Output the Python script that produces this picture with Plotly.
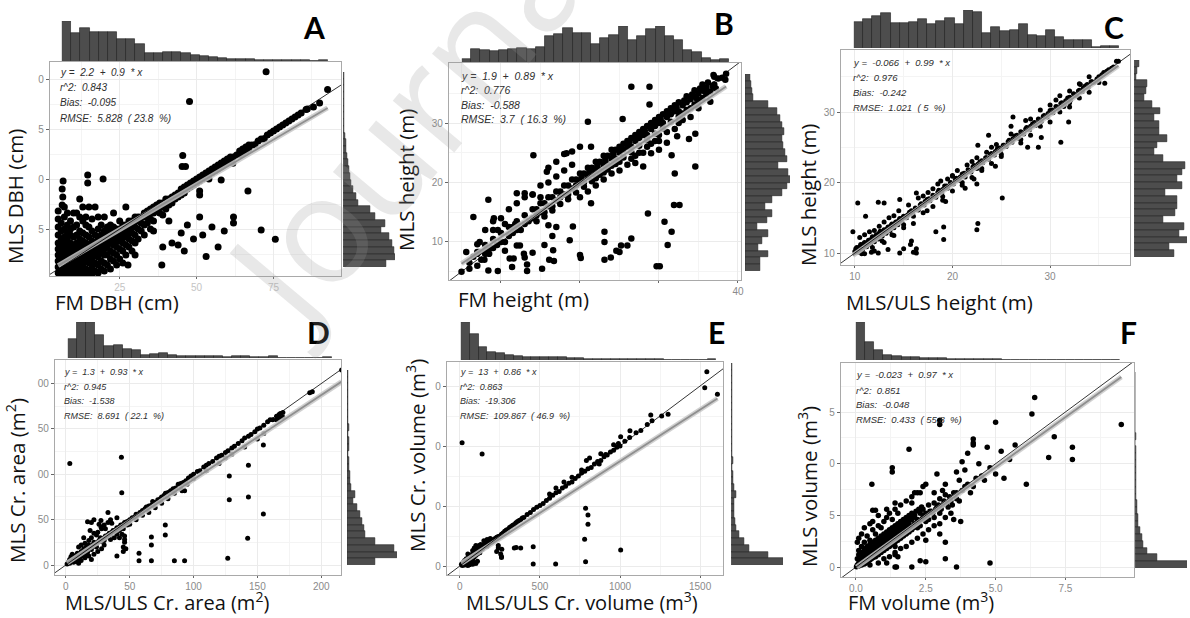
import plotly.graph_objects as go

W, H = 1190, 618

# ---------------- DATA ----------------
# Panel A: FM DBH (cm) vs MLS DBH (cm)
dbh_points = [
    (5,3),(5,6),(5,9),(5,12),(5,15),(5,18),(5,22),(5,26),(5,30),(5,34),
    (6,2),(6,5),(6,8),(6,11),(6,14),(6,17),(6,20),(6,24),(6,28),(6.3,37),(6.5,41),(6.3,45),(6.6,49),
    (7,3),(7,6),(7,9),(7,12),(7,15),(7,18),(7,21),(7,25),(7,31),(7,36),
    (8,2),(8,5),(8,8),(8,11),(8,14),(8,17),(8,20),(8,23),(8,27),(8,33),
    (9,3),(9,6),(9,9),(9,12),(9,15),(9,18),(9,22),(9,25),(9,29),
    (10,2),(10,5),(10,8),(10,11),(10,14),(10,17),(10,21),(10,26),(10,33),
    (11,3),(11,6),(11,9),(11,12),(11,15),(11,18),(11,22),(11,27),(11,33),
    (12,2),(12,5),(12,8),(12,11),(12,14),(12,17),(12,20),(12,24),(12,31),(12,40),
    (13,3),(13,7),(13,10),(13,13),(13,16),(13,19),(13,23),(13,29),(13,36),
    (14,2),(14,5),(14,9),(14,12),(14,15),(14,18),(14,22),(14,27),(14,31),(14.6,48),(14.6,52),
    (15,4),(15,8),(15,11),(15,14),(15,17),(15,21),(15,26),(15,36),
    (16,2),(16,6),(16,10),(16,13),(16,16),(16,19),(16,24),(16,30),
    (17,4),(17,8),(17,12),(17,15),(17,18),(17,22),(17,36),
    (18,3),(18,7),(18,11),(18,14),(18,17),(18,20),(18,25),(18,31),
    (19,5),(19,9),(19,13),(19,16),(19,19),(19,22),(19,27),(19.6,50),
    (20,4),(20,8),(20,12),(20,15),(20,18),(20,21),(20,24),(20,31),
    (21,7),(21,12),(21,16),(21,19),(21,22),(21,26),
    (22,5),(22,10),(22,14),(22,18),(22,21),(22,24),(22,27),
    (23,9),(23,13),(23,17),(23,20),(23,23),(23,26),(23,33),
    (24,7),(24,12),(24,16),(24,19),(24,22),(24,25),
    (25,10),(25,15),(25,19),(25,22),(25,25),(25,29),
    (26,8),(26,14),(26,18),(26,21),(26,24),(26,27),
    (27,12),(27,17),(27,21),(27,24),(27,27),(27,36),(27.7,7),
    (28,16),(28,20),(28,23),(28,26),(28,29),
    (29,14),(29,19),(29,23),(29,26),(29,29),
    (30,12),(30,18),(30,22),(30,26),(30,29),(30,31),
    (31,20),(31,25),(31,29),(31,31),(32,24),(32,28),(32,31),(33,22),(33,27),(33,31),(33,33),
    (34,28),(34,31),(34,34),(35,25),(35,30),(35,33),(35,35),(36,29),(36,33),(36,36),(36,24),
    (37,34),(37,37),(38,33),(38,36),(38,38),(39,32),(39,36),(39,38),(39,16),(38.7,7),
    (40,35),(40,38),(40,40),(41,37),(41,40),(41,29),(42,38),(42,41),(42,18),(43,40),(43,42),
    (44,41),(44,43),(44,17),(45,42),(45,45),(45.5,61.7),(45.3,56.2),(46.4,56.2),(45,23),(46,14),
    (46,43),(46,46),(47,45),(47,47),(47,27),(48,46),(48,48),(49,47),(49,49),(49,20),
    (50,48),(50,50),(51,49),(51,51),(51,31),(51,44),(51,42),(52,50),(52,52),(52,22),
    (53,51),(53,53),(53.1,11.2),(54,52),(54,54),(54,50),(55,53),(55,55),(55,26),
    (56,54),(56,56),(57,55),(57,57),(57,16),(58,56),(58,58),(58,49.5),(59,57),(59,59),(59,24),
    (60,58),(60,60),(61,59),(61,61),(61.8,57.9),(62,61),(62,31),(62,28),(63,62),(64,62),(64,64),
    (65,63),(65,65),(66,64),(66,66),(66.7,44),(67,65),(67,67),(68,67),(69,67),(70,69),(71,70),
    (71,24.5),(72,70),(73,72),(74,73),(75,74),(75.6,19.9),(76,75),(77,76),(78,77),(79,78),
    (80,79),(81,80),(82,81),(83,82),(84,83),(85.6,84.8),(86,85),(88,86),(90,88),(92.6,94.8),
    (72.6,103.6),(47.7,88.7),
]
dbh_top_hist = [120, 85, 98, 88, 88, 86, 65, 65, 50, 25, 25, 27, 27, 23, 18, 16, 13, 8, 6, 5,
                5, 3, 3, 3, 3, 2, 2, 1, 2]
dbh_right_hist_top_down = [3, 3, 3, 3, 3, 3, 3, 3, 4, 6, 8, 10, 12, 14, 17, 20, 24, 30, 38, 45,
                           82, 95, 125, 115, 138, 145, 153, 155, 128]

# Panel B: FM height (m) vs MLS height (m)
height_fm_points = [
    (6,6.5),(6.5,7.5),(7,6),(7,8),(7.5,7),(8,8.5),(8,9.5),(8.5,8),(9,9),(9,10.5),(9.5,9.5),
    (10,10),(10,11.5),(10.5,10),(11,11),(11,12.5),(11.5,11.5),(12,12),(12,13.5),(12.5,12),
    (13,13),(13,14.5),(13.5,13.5),(14,14),(14,15.5),(14.5,14.5),(15,15),(15,16.5),(15.5,15),
    (16,16),(16,17.5),(16.5,16),(17,17),(17,18.5),(17.5,17.5),(18,18),(18,19.5),(18.5,18),
    (19,19),(19,20.5),(19.5,19.5),(20,20),(20,21.5),(20.5,20),(21,21),(21,22.5),(21.5,21.5),
    (22,22),(22,23.5),(22.5,22),(23,23),(23,24.5),(23.5,23),(24,24),(24,25.5),(24.5,24),
    (25,25),(25,26),(25.5,25.5),(26,26),(26,27),(26.5,26),(27,27),(27,28),(27.5,27.5),
    (28,28),(28,29),(28.5,28),(29,29),(29,30),(29.5,29.5),(30,30),(30,31),(30.5,30),
    (31,31),(31,32),(31.5,31.5),(32,32),(32,33),(32.5,32),(33,33),(33.5,33.5),(34,34),
    (34.5,34.5),(35,35),(35.5,35.5),(36,36),(37,36.5),(37.5,37.5),
    (14.5,15.5),(15.5,16.5),(16.5,17.5),(17.5,18.5),(18.5,19.5),(19.5,20.5),(20.5,21.5),
    (21.5,22.5),(22.5,23.5),(23.5,24.5),(24.5,25.5),(25.5,26.5),(26.5,27.5),(27.5,28.5),
    (28.5,29.5),(29.5,30.5),(30.5,31.5),(31.5,32.5),(32.5,33.5),(33.5,34.5),(34.5,35.5),
    (35.5,36.5),(14.5,13.5),(15.5,14.3),(16.5,15.3),(17.5,16.4),(18.5,17.2),(19.5,18.3),
    (20.5,19.3),(21.5,20.2),(22.5,21.3),(23.5,22.2),(24.5,23.1),(25.5,24.2),(26.5,25.1),
    (27.5,26.2),(28.5,27.1),(29.5,28.2),(30.5,29.1),(31.5,30.2),(32.5,31.1),(33.5,32.2),
    (34.5,33.1),(35.5,34.2),(36.5,35.3),(20.2,20.8),(21.2,21.8),(22.2,22.8),(23.2,23.8),
    (24.2,24.8),(25.2,25.8),(26.2,26.8),(27.2,27.8),(28.2,28.8),(29.2,29.8),(30.2,30.8),
    (31.2,31.8),(32.2,32.8),(33.2,33.8),(34.2,34.8),(35.2,35.8),(36.2,36.8),(37,37.8),
    (33,31.6),(34,32.5),(35,33.7),(36,34.9),(36.5,33.6),(37.2,35.8),(36.8,36.2),(38,37.6),
    (35.8,35.3),(34.8,34.1),
    (20,17.5),(21,18.5),(22,19.5),(23,20.5),(24,21.5),(25,22),(26,23),(26.5,24),(27,24.5),
    (27.5,25),(28,25),(28.5,26),(29,26.5),(29.5,27),(30,27),(30,28),(31,28.5),(32,29),
    (32.5,30),(33,30.5),(34,31),(35,32.5),(28,22.7),(27,23.3),(29,24.9),(30,25.5),(31,26.7),
    (25,23.5),(24,22.8),(23,21.7),(22,20.7),
    (8,12),(9,13.5),(10,14),(11,15.5),(12,16.5),(13,17.5),(14,18),(15,19.5),(16,20),(17,21),
    (18,22),(19,23),(12,18.2),(13,18.2),(14,18),(15,17.5),(16,22.5),(17,23.5),(18,24.8),
    (19,25.2),(20,26),(10.5,13),(11.5,12.5),(6.5,14.2),(8.4,17.1),(14.1,24.6),(15.8,21.8),
    (18.3,24.9),(21,30.2),(21.4,26),
    (21.4,16.5),(19.1,12.6),(18.7,10.3),(20,7.8),(20.1,7.3),(23.1,11.7),(23.1,10),(23.1,7),
    (23.9,7.4),(25,8.3),(24.6,8.5),(25.2,9.4),(26,9.4),(26.5,10.6),(25.4,30.7),(26.5,36.1),
    (28.8,36.1),(28.8,33.1),(28.6,14.8),(29.7,5.9),(30.1,5.9),(30.7,13.4),(31.1,9.5),
    (31.6,11.7),(31.9,16.2),(32.6,16.2),(32,21.5),(31.6,24.6),(34.6,22.7),(33.8,27.3),
    (32.3,27.8),(34.6,28.2),(36.9,38.1),(38.5,38.3),(38.4,37.3),(16.7,6.8),(16.6,8.6),
    (15.2,5.5),(16.1,7),(13.3,6.2),(13.3,5.1),(12.9,8),(12.4,9.4),(12,9.4),(11.4,5.8),
    (11.6,7.2),(11.1,7.2),(9.6,5.1),(8.4,5.2),(7.9,7),(8,8),(8.3,8.6),(8.8,9),(5.6,8.3),
    (7,8.3),(7.2,8.3),(7,9.6),(7.3,10),(9,12),(9.6,12),(9.1,14),(11.8,13),(12.1,13),
    (10.5,8.5),(14,8.2),(13,7.4),(17,12.5),(16.5,11),(15.5,9.5),(16,12.8),(5,5),(6,5.5),
]
height_fm_top_hist = [10, 39, 36, 34, 36, 40, 43, 39, 46, 80, 86, 103, 89, 88, 56, 72, 81, 109,
                      68, 78, 99, 108, 78, 68, 36, 31, 11, 6, 8]
height_fm_right_hist_top_down = [15, 18, 22, 25, 70, 95, 105, 110, 118, 110, 115, 120, 125, 100,
                                 130, 135, 125, 110, 82, 60, 82, 65, 35, 70, 50, 40, 68, 45, 45]

# Panel C: MLS/ULS height (m) vs MLS height (m)
height_uls_points = [
    (10,10.2),(10.2,10.8),(10.4,10.3),(10.6,11.2),(10.8,10.5),(11,11.5),(11.2,10.9),(11.4,11.8),
    (11.6,11.2),(11.8,12.3),(12,11.6),(12.2,12.6),(12.4,12),(12.6,13.1),(12.8,12.4),(13,13.3),
    (13.2,12.8),(13.4,13.7),(13.6,13.2),(13.8,14.1),(14,13.6),(14.2,14.4),(14.4,14),(14.6,14.9),
    (14.8,14.4),(15,15.2),(15.3,15),(15.6,15.8),(15.9,15.6),(16.2,16.4),(16.5,16.1),(16.8,17),
    (17.1,16.8),(17.4,17.6),(17.7,17.4),(18,18.2),(18.3,17.9),(18.6,18.9),(18.9,18.5),
    (19.2,19.5),(19.5,19.2),(19.8,20),(20.1,19.8),(20.4,20.6),(20.7,20.3),(21,21.2),(21.3,20.8),
    (21.6,21.8),(21.9,21.5),(22.2,22.4),(22.5,22),(22.8,22.9),(23.1,22.8),(23.4,23.5),
    (23.7,23.3),(24,24.1),(24.3,23.9),(24.6,24.8),(24.9,24.5),(25.2,25.3),(25.5,25.1),
    (25.8,26),(26.1,25.7),(26.4,26.6),(26.7,26.3),(27,27.2),(27.3,26.9),(27.6,27.8),
    (27.9,27.5),(28.2,28.3),(28.5,28.1),(28.8,29),(29.1,28.7),(29.4,29.5),(29.7,29.3),
    (30,30.2),(30.3,29.9),(30.6,30.8),(30.9,30.5),(31.2,31.3),(31.5,31.1),(31.8,32),
    (32.1,31.7),(32.4,32.6),(32.7,32.3),(33,33.1),(33.3,32.9),(33.6,33.7),(33.9,33.5),
    (34.2,34.3),(34.5,34.2),(35,35),(35.5,35.6),(36,36),(36.5,36.4),(37,37.2),
    (10.1,10.6),(10.5,10.9),(10.9,11.3),(11.3,11.5),(11.7,12),(12.1,12.2),(12.5,12.8),
    (12.9,13),(13.3,13.4),(13.7,13.9),(14.1,14.2),(14.5,14.6),(14.9,15),(15.4,15.4),
    (15.8,16),(16.3,16.2),(16.7,16.8),(17.2,17.3),(17.6,17.7),(18.1,18.1),(18.5,18.6),
    (19,19),(19.4,19.5),(19.9,19.9),(20.3,20.4),(20.8,20.8),(21.2,21.3),(21.7,21.7),
    (22.1,22.2),(22.6,22.6),(23,23.1),(23.5,23.5),(23.9,24),(24.4,24.4),(24.8,24.9),
    (25.3,25.3),(25.7,25.8),(26.2,26.2),(26.6,26.7),(27.1,27.1),(27.5,27.6),(28,28),
    (28.4,28.5),(28.9,28.9),(29.3,29.4),(29.8,29.8),(30.2,30.3),(30.7,30.7),(31.1,31.2),
    (31.6,31.6),(32,32.1),(32.5,32.5),(32.9,33),(33.4,33.4),(33.8,33.9),(34.3,34.3),
    (34.8,34.7),(35.3,35.3),(35.8,35.8),(36.3,36.2),
    (11,12.6),(12,13.2),(13,14.4),(14,15.3),(15,14),(16,15.2),(17,18.1),(18,19.1),(19,18),
    (20,21),(21,20),(22,23),(23,22),(24,25),(25,24),(26,26.9),(27,26.1),(28,29),(29,28),
    (30,31),(31,30),(32,33),(33,32),(34,35),(20,20.9),(18.8,20.2),(19.3,17.3),(21.3,19.2),
    (22.2,20.5),(24.4,22.3),(17.4,16),(13.8,12.6),(12.8,11.7),(11.8,10.8),(10.7,9.9),
    (10.5,12.2),(11,9.9),(11.5,13),(12,10.3),(12.5,13.8),(13,11.5),(13.5,15),(14,12.5),
    (14.5,16),(15,13.6),(15.5,16.8),(16,14.2),(16.5,17.8),(17,15.7),(17.5,18.6),(18,16.6),
    (18.5,19.8),(19,17.5),(19.5,20.5),(20,18.8),(20.5,21.7),(21,19.6),(21.5,22.5),(22,20.7),
    (22.5,19.8),(22.5,23.5),(23,21.7),(23.5,24.3),(24,22.7),(24.5,25.4),(25,23.7),(26,28),
    (27,25.6),(27.5,28.8),(28,26.7),(29,30.3),(30,28.6),(31,32.3),(32,30.7),(33,34),
    (34,32.8),(35,34.2),(12.4,10),(13.4,10.5),(11.7,10.1),(10.3,10.1),(14.6,10),(16,10.1),
    (15,10.6),(15.7,11.2),
    (10.3,17.1),(11.1,15.2),(12.4,17.2),(13,17.1),(14.6,17.6),(16.3,18.5),(16.3,10.6),
    (15.8,11.7),(16.3,10),(18.3,13),(19.1,13.7),(19.1,11.9),(25.1,17.8),(22.6,14.2),
    (22.5,13.3),(22.6,25.3),(23.7,26.7),(26.2,29.3),(27.7,25),(28.8,25),(29.1,26.4),
    (31.1,25.7),(31.9,28.6),(31.4,30.8),(32,31.3),(30.6,31.7),(33.1,33.9),(35.6,34.1),
    (36.8,37.2),(9.8,13),
]
height_uls_top_hist = [80, 87, 97, 105, 77, 75, 80, 87, 73, 83, 90, 72, 115, 110, 45, 63, 50,
                       55, 73, 40, 37, 55, 32, 25, 23, 23, 2, 5, 7]
height_uls_right_hist_top_down = [15, 8, 5, 40, 35, 30, 55, 80, 60, 75, 75, 100, 70, 62, 88, 155,
                                  145, 130, 145, 95, 130, 130, 125, 88, 150, 135, 160, 105, 122]

# Panel D: MLS/ULS crown area (m2) vs MLS crown area (m2)
area_points = [
    (1,1),(2,3),(3,2),(3,6),(4,4),(4,9),(5,5),(5,12),(6,3),(6,7),(7,6),(7,10),(8,8),(8,4),
    (9,9),(9,13),(10,10),(10,6),(11,12),(11,9),(12,11),(12,15),(13,13),(13,10),(14,14),
    (14,18),(15,15),(15,12),(16,16),(16,20),(17,17),(17,14),(18,18),(18,22),(19,19),(20,20),
    (20,17),(21,22),(22,21),(22,25),(23,23),(24,24),(24,20),(25,25),(26,27),(27,26),(27,30),
    (28,28),(29,29),(30,30),(30,27),(31,32),(32,31),(33,33),(34,35),(35,34),(36,36),(37,38),
    (38,37),(39,39),(40,41),(41,40),(42,42),(43,44),(44,43),(45,45),(46,47),(47,46),(48,48),
    (50,50),(52,52),(54,53),(55,56),(56,55),(58,58),(60,60),(62,62),(63,64),(65,65),(67,66),
    (68,70),(70,69),(72,72),(74,73),(75,75),(77,77),(78,79),(80,80),(82,82),(84,84),(86,85),
    (88,89),(90,90),(92,91),(94,93),(96,96),(98,98),(100,100),(103,103),(105,104),(108,108),
    (110,110),(112,112),(115,114),(118,118),(120,120),(122,121),(125,124),(127,126),
    (130,129),(132,131),(135,134),(138,137),(140,140),(143,142),(145,144),(148,147),
    (150,150),(152,151),(155,154),(158,158),(160,160),(162,160),(165,164),(167,166),
    (168,167),(170,168),(167,162),(170,163),(165,160),
    (10,20),(12,22),(15,24),(18,27),(20,30),(22,35),(25,36),(28,40),(30,44),(33,47),(35,50),
    (40,52),(20,47),(22,50),(17,47.8),(27.5,49),(27.5,42),(33,57.8),(14,30),(19,38),(24,33),
    (26,45),(31,40),(36,46),
    (10,2),(12,5),(15,8),(18,10),(20,6),(22,12),(25,15),(28,18),(30,22),(35,28),(38,30),
    (40,34),(42,38),(45,40),(48,44),(50,45),(55,50),(60,55),(65,58),(70,63),(75,68),(80,73),
    (85,79),(90,84),(95,89),(100,95),(110,104),(120,112),(125,118),(130,122),(140,130),
    (150,139),(155,145),
    (3.1,112),(43.5,118.9),(43.8,79.8),(40,10),(57.3,13),(57.3,4.8),(67,4.8),(67,22),(67,31),
    (77.9,44),(77.9,33),(85,4.8),(93,4.8),(91,82),(93,82),(128,98),(128,72),(126.8,7.4),
    (143,110),(143,75),(142.4,29.4),(154.7,56.3),(154.7,132.4),(191,190),(193,191),(216,215),
    (45,15),(45,20),(46,25),(46,28),(44,34),(46,32),(47,18),(42,30),
]
area_top_hist = [58, 108, 108, 68, 35, 38, 28, 23, 10, 13, 15, 8, 7, 5, 5, 6, 5, 3, 5, 6, 3, 3, 5,
                 1, 1, 1, 1, 0, 2]
area_right_hist_top_down = [2, 3, 2, 3, 3, 4, 3, 4, 5, 4, 5, 5, 4, 5, 6, 8, 10, 12, 25, 18, 30, 38,
                            45, 50, 55, 85, 140, 150, 85]

# Panel E: MLS/ULS crown volume (m3) vs MLS crown volume (m3)
crvol_points = [
    (10,15),(20,30),(25,10),(30,45),(35,25),(40,60),(45,35),(50,20),(55,70),(60,50),(65,85),
    (70,40),(75,95),(80,60),(85,110),(90,75),(95,120),(100,90),(105,140),(110,100),(115,130),
    (120,150),(125,110),(130,160),(140,140),(145,175),(150,160),(160,180),(170,165),(175,200),
    (180,190),(190,210),(200,200),(210,220),(220,230),(230,240),(240,245),(250,250),(260,265),
    (270,275),(280,290),(290,300),(300,305),(310,320),(320,330),(330,340),(340,345),(350,360),
    (360,370),(370,380),(380,385),(390,400),(400,405),(420,430),(440,445),(460,470),(480,490),
    (500,505),(520,520),(540,545),(560,565),(580,590),(600,610),(620,620),(640,650),(660,665),
    (680,690),(700,700),(720,730),(740,750),(760,775),(780,790),(800,810),(820,820),(840,850),
    (860,870),(880,880),(900,910),(920,925),(940,950),(960,965),(980,990),(1000,1000),
    (1030,1040),(1060,1070),(1100,1110),(1130,1130),(1170,1180),(1200,1210),(1260,1250),
    (1300,1264),(1192,1258),(1542,1619),(1529,1486),(1608,1431),(1062,1128),(1004,1078),
    (960,1010),(990,1020),(910,930),(880,935),(790,880),(810,900),(870,850),(760,800),
    (700,740),(650,700),(600,650),(560,600),
    (15,5),(30,8),(40,15),(50,5),(60,10),(70,25),(80,15),(90,30),(100,20),(110,40),(60,80),
    (70,90),(80,130),(90,150),(100,170),(50,100),(120,170),(130,180),(150,210),(170,220),
    (190,230),
    (14,1028),(139,933),(785,481),(800,425),(800,347),(779,222),(785,36),(598,17),(458,17),
    (458,161),(340,150),(352,155),(380,150),(230,120),(240,170),(255,100),(260,80),(260,70),
    (262,140),(240,150),(1004,133),
]
crvol_top_hist = [115, 80, 40, 25, 20, 15, 12, 10, 8, 8, 10, 8, 5, 5, 4, 3, 4, 3, 4, 2, 2, 2, 2,
                  1, 1, 1, 1, 1, 2]
crvol_right_hist_top_down = [2, 2, 2, 3, 2, 3, 2, 3, 3, 2, 3, 4, 3, 4, 5, 4, 5, 6, 8, 15, 10, 8,
                             10, 12, 14, 25, 40, 55, 110, 155]

# Panel F: FM volume (m3) vs MLS volume (m3)
vol_points = [
    (0.02,0.02),(0.05,0.1),(0.1,0.05),(0.1,0.2),(0.15,0.3),(0.2,0.1),(0.2,0.4),(0.25,0.25),
    (0.3,0.5),(0.3,0.15),(0.35,0.4),(0.4,0.6),(0.4,0.25),(0.45,0.5),(0.5,0.8),(0.5,0.35),
    (0.55,0.6),(0.6,0.9),(0.6,0.45),(0.65,0.7),(0.7,1.0),(0.7,0.5),(0.75,0.8),(0.8,1.1),
    (0.8,0.6),(0.85,0.9),(0.9,1.2),(0.9,0.7),(0.95,1.0),(1.0,1.3),(1.0,0.8),(1.05,1.1),
    (1.1,1.4),(1.1,0.9),(1.15,1.2),(1.2,1.5),(1.2,1.0),(1.25,1.3),(1.3,1.6),(1.3,1.1),
    (1.35,1.4),(1.4,1.7),(1.4,1.2),(1.45,1.5),(1.5,1.8),(1.5,1.3),(1.55,1.6),(1.6,1.9),
    (1.6,1.4),(1.65,1.7),(1.7,2.0),(1.7,1.5),(1.75,1.8),(1.8,2.1),(1.8,1.6),(1.85,1.9),
    (1.9,2.2),(1.9,1.7),(1.95,2.0),(2.0,2.3),(2.0,1.8),(2.1,2.1),(2.1,2.5),(2.2,1.9),
    (2.2,2.3),(2.3,2.6),(2.3,2.0),(2.4,2.4),(2.4,2.8),(2.5,2.2),(2.5,2.6),(2.6,3.0),
    (2.6,2.3),(2.7,2.7),(2.8,3.1),(2.8,2.4),(2.9,2.9),(3.0,3.3),(3.0,2.6),(3.1,3.0),
    (3.2,3.5),(3.3,2.9),(3.4,3.2),(3.5,3.6),(3.6,3.3),(3.8,3.7),(4.0,4.0),(4.2,3.9),(4.5,4.4),
    (0.05,0.4),(0.1,0.6),(0.15,0.15),(0.2,0.7),(0.25,0.5),(0.3,0.9),(0.35,0.2),(0.35,0.7),
    (0.4,1.0),(0.45,0.3),(0.45,0.8),(0.5,1.1),(0.55,0.4),(0.55,0.9),(0.6,1.2),(0.65,0.5),
    (0.65,1.0),(0.7,1.3),(0.75,0.6),(0.75,1.1),(0.8,1.4),(0.85,0.7),(0.85,1.2),(0.9,1.5),
    (0.95,0.8),(0.95,1.3),(1.0,1.6),(1.05,0.9),(1.05,1.4),(1.1,1.7),(1.15,1.0),(1.15,1.5),
    (1.2,1.8),(1.25,1.1),(1.25,1.6),(1.3,1.9),(1.35,1.2),(1.35,1.7),(1.4,2.0),(1.45,1.3),
    (1.45,1.8),(1.5,2.1),(1.55,1.4),(1.55,1.9),(1.6,2.2),(1.65,1.5),(1.65,2.0),(1.7,2.3),
    (1.75,1.6),(1.75,2.1),(1.8,2.4),(1.85,1.7),(1.85,2.2),(1.9,2.5),(1.95,1.8),(1.95,2.3),
    (2.0,2.6),(2.05,1.9),(2.05,2.4),(2.15,2.0),(2.15,2.7),(2.25,2.2),(2.25,2.8),(2.35,2.3),
    (2.35,2.9),(2.45,2.5),(2.55,2.4),(2.65,2.7),(2.75,2.6),(2.85,2.8),(2.95,3.0),(3.05,2.8),
    (3.15,3.2),(3.25,3.1),(3.35,3.4),(3.45,3.0),(3.6,3.6),(3.7,3.2),(3.9,3.9),(4.1,3.6),
    (4.3,4.3),
    (0.1,0.8),(0.2,1.0),(0.3,1.2),(0.4,1.5),(0.5,1.3),(0.6,1.8),(0.7,1.6),(0.8,2.0),(0.9,1.9),
    (1.0,2.2),(1.1,2.4),(1.2,2.6),(1.3,2.3),(1.4,2.8),(1.5,2.6),(1.6,3.0),(1.8,3.2),(2.0,3.4),
    (2.2,3.6),(2.4,3.9),(0.05,1.2),(0.1,1.4),(0.2,1.6),(0.3,1.9),(0.5,2.1),(0.6,2.2),(0.8,2.5),
    (0.5,0.1),(0.8,0.2),(1.0,0.4),(1.2,0.5),(1.4,0.7),(1.6,0.9),(1.8,1.0),(2.0,1.2),(2.2,1.4),
    (2.4,1.6),(2.6,1.8),(2.8,2.0),(3.0,2.1),(3.2,2.4),(3.4,2.6),(1.1,0.2),(1.5,0.5),(2.5,1.3),
    (3.0,1.6),(3.5,2.3),
    (9.5,6.9),(6.4,8.2),(6.3,7.4),(5.0,7.0),(3.0,7.1),(3.0,6.9),(1.9,5.7),(1.3,4.8),(1.3,4.6),
    (0.57,4.0),(7.1,6.3),(6.9,5.3),(7.75,5.8),(7.75,5.2),(6.1,4.0),(5.7,5.9),(5.5,5.2),
    (5.2,5.6),(4.7,5.8),(4.2,6.2),(4.2,6.0),(4.0,5.5),(4.2,5.9),(3.6,4.6),(3.8,5.1),(1.4,0.0),
    (1.45,0.0),(2.0,0.0),(2.3,0.3),(2.5,0.26),(3.2,0.4),(3.6,0.0),(4.8,0.2),(1.4,0.6),
    (1.4,1.0),(3.2,1.2),(3.75,2.2),(0.6,2.75),(0.7,2.75),(1.1,2.8),(1.4,3.1),(2.0,3.1),
    (2.1,3.6),(2.3,3.6),(2.8,3.6),(3.1,3.7),(2.5,4.0),(2.9,4.5),(3.2,4.0),(3.7,4.2),(5.0,4.5),
    (4.8,4.8),(4.4,5.0),(5.3,4.3),(4.6,4.2),(3.9,4.7),
]
vol_top_hist = [115, 55, 30, 15, 12, 10, 8, 7, 6, 5, 3, 3, 2, 2, 2, 2, 1, 1, 1, 1, 1, 1, 1, 1, 0,
                0, 0, 0, 1]
vol_right_hist_top_down = [1, 1, 1, 1, 1, 1, 1, 1, 1, 2, 1, 2, 2, 2, 2, 3, 3, 3, 4, 5, 6, 8, 10,
                           15, 20, 25, 35, 65, 175]

# Fit coefficients (intercept, slope) and stats texts
fit_A = (2.2, 0.9)
fit_B = (1.9, 0.89)
fit_C = (-0.066, 0.99)
fit_D = (1.3, 0.93)
fit_E = (13, 0.86)
fit_F = (-0.023, 0.97)

stats_A = ["y =  2.2  +  0.9  * x", "r^2:  0.843", "Bias:  -0.095", "RMSE:  5.828  ( 23.8  %)"]
stats_B = ["y =  1.9  +  0.89  * x", "r^2:  0.776", "Bias:  -0.588", "RMSE:  3.7  ( 16.3  %)"]
stats_C = ["y =  -0.066  +  0.99  * x", "r^2:  0.976", "Bias:  -0.242", "RMSE:  1.021  ( 5  %)"]
stats_D = ["y =  1.3  +  0.93  * x", "r^2:  0.945", "Bias:  -1.538", "RMSE:  8.691  ( 22.1  %)"]
stats_E = ["y =  13  +  0.86  * x", "r^2:  0.863", "Bias:  -19.306", "RMSE:  109.867  ( 46.9  %)"]
stats_F = ["y =  -0.023  +  0.97  * x", "r^2:  0.851", "Bias:  -0.048", "RMSE:  0.433  ( 55.8  %)"]

# ---------------- LAYOUT CONFIG ----------------
panels = [
    dict(letter="A", pts=dbh_points, top=dbh_top_hist, right=dbh_right_hist_top_down, fit=fit_A,
         stats=stats_A, sc=(50, 342, 62, 276), th=(62, 329, 21, 61), rh=(344, 396, 72, 267),
         xr=[2.3, 97], yr=[1.5, 108.5],
         xt=[25, 50, 75], xtt=["25", "50", "75"], xminor=[12.5, 37.5, 62.5, 87.5],
         yt=[25, 50, 75, 100], ytt=["5", "0", "5", "0"], yminor=[12.5, 37.5, 62.5, 87.5],
         msize=7, sfont=10, sx=58, sy=[73, 88, 103, 118], xlabfaint=True,
         xtitle="FM DBH (cm)", xtpos=(117, 302), ytitle="MLS DBH (cm)", ytpos=(15, 196),
         lpos=(315, 27), bottom=False),
    dict(letter="B", pts=height_fm_points, top=height_fm_top_hist, right=height_fm_right_hist_top_down,
         fit=fit_B, stats=stats_B, sc=(450, 743, 63, 280), th=(463, 731, 26, 62), rh=(747, 792, 74, 271),
         xr=[3.4, 40.4], yr=[3.6, 40.1],
         xt=[10, 20, 30, 40], xtt=["", "", "", "40"], xminor=[5, 15, 25, 35],
         yt=[10, 20, 30], ytt=["10", "20", "30"], yminor=[5, 15, 25, 35],
         msize=6.5, sfont=10.5, sx=460, sy=[76, 90, 105, 119], xlabfaint=False,
         xtitle="FM height (m)", xtpos=(525, 299), ytitle="MLS height (m)", ytpos=(407, 180),
         lpos=(726, 23), bottom=False),
    dict(letter="C", pts=height_uls_points, top=height_uls_top_hist, right=height_uls_right_hist_top_down,
         fit=fit_C, stats=stats_C, sc=(843, 1133, 50, 265), th=(856, 1122, 10, 48), rh=(1137, 1190, 60, 257),
         xr=[8.57, 38.2], yr=[8.3, 38.8],
         xt=[10, 20, 30], xtt=["10", "20", "30"], xminor=[15, 25, 35],
         yt=[10, 20, 30], ytt=["10", "20", "30"], yminor=[15, 25, 35],
         msize=5, sfont=9.5, sx=853, sy=[62, 77, 92, 107], xlabfaint=False,
         xtitle="MLS/ULS height (m)", xtpos=(942, 302), ytitle="MLS height (m)", ytpos=(810, 195),
         lpos=(1117, 27), bottom=False),
    dict(letter="D", pts=area_points, top=area_top_hist, right=area_right_hist_top_down,
         fit=fit_D, stats=stats_D, sc=(55, 342, 360, 575), th=(68, 333, 322, 358), rh=(348, 398, 370, 565),
         xr=[-8.6, 215.6], yr=[-11, 226],
         xt=[0, 50, 100, 150, 200], xtt=["0", "50", "100", "150", "200"], xminor=[25, 75, 125, 175],
         yt=[0, 50, 100, 150, 200], ytt=["0", "50", "00", "50", "00"], yminor=[25, 75, 125, 175],
         msize=5, sfont=9, sx=62, sy=[372, 387, 401, 416], xlabfaint=False,
         xtitle="MLS/ULS Cr. area (m<sup>2</sup>)", xtpos=(167, 618),
         ytitle="MLS Cr. area (m<sup>2</sup>)", ytpos=(16, 480), lpos=(319, 332), bottom=True),
    dict(letter="E", pts=crvol_points, top=crvol_top_hist, right=crvol_right_hist_top_down,
         fit=fit_E, stats=stats_E, sc=(448, 725, 362, 575), th=(462, 718, 322, 360), rh=(733, 785, 363, 565),
         xr=[-81, 1644], yr=[-75, 1700],
         xt=[0, 500, 1000, 1500], xtt=["0", "500", "1000", "1500"], xminor=[250, 750, 1250],
         yt=[0, 500, 1000, 1500], ytt=["0", "0", "0", "0"], yminor=[250, 750, 1250],
         msize=5, sfont=9, sx=459, sy=[372, 387, 401, 416], xlabfaint=False,
         xtitle="MLS/ULS Cr. volume (m<sup>3</sup>)", xtpos=(583, 618),
         ytitle="MLS Cr. volume (m<sup>3</sup>)", ytpos=(417, 455), lpos=(718, 332), bottom=True),
    dict(letter="F", pts=vol_points, top=vol_top_hist, right=vol_right_hist_top_down,
         fit=fit_F, stats=stats_F, sc=(843, 1137, 363, 577), th=(858, 1123, 322, 360), rh=(1138, 1190, 372, 568),
         xr=[-0.54, 9.96], yr=[-0.48, 9.87],
         xt=[0, 2.5, 5, 7.5], xtt=["0.0", "2.5", "5.0", "7.5"], xminor=[1.25, 3.75, 6.25, 8.75],
         yt=[0, 2.5, 5, 7.5], ytt=["0", "5", "0", "5"], yminor=[1.25, 3.75, 6.25, 8.75],
         msize=5.5, sfont=9.5, sx=856, sy=[374, 390, 404, 419], xlabfaint=False,
         xtitle="FM volume (m<sup>3</sup>)", xtpos=(923, 618),
         ytitle="MLS volume (m<sup>3</sup>)", ytpos=(810, 486), lpos=(1131, 332), bottom=True),
]

BAR_FILL = "#4d4d4d"
BAR_LINE = "#1c1c1c"
GRID = "#ebebeb"
MINOR = "#f4f4f4"
BORDER = "#a9a9a9"
TICKFONT = dict(family="Liberation Sans, Arial, sans-serif", size=10, color="#8a8a8a")
TITLEFONT = dict(family="Open Sans, sans-serif", size=20.5, color="#111111")
BOTTOMTITLEFONT = dict(family="Open Sans, sans-serif", size=20, color="#111111")


def fx(p):
    return p / W


def fy(p):
    return 1 - p / H


def akey(kind, n):
    return kind + "axis" + ("" if n == 1 else str(n))


def aref(kind, n):
    return kind + ("" if n == 1 else str(n))


fig = go.Figure()
layout = {}
annotations = []

for i, p in enumerate(panels):
    n_sc, n_top, n_rt = 3 * i + 1, 3 * i + 2, 3 * i + 3
    l, r, t, b = p["sc"]
    xs = [q[0] for q in p["pts"]]
    ys = [q[1] for q in p["pts"]]

    layout[akey("x", n_sc)] = dict(
        domain=[fx(l), fx(r)], range=p["xr"], anchor=aref("y", n_sc),
        tickmode="array", tickvals=p["xt"], ticktext=p["xtt"],
        showgrid=True, gridcolor=GRID, gridwidth=1, zeroline=False,
        minor=dict(tickmode="array", tickvals=p["xminor"], showgrid=True, gridcolor=MINOR, gridwidth=0.6),
        showline=True, linecolor=BORDER, linewidth=1.2, mirror=True,
        ticks="outside", ticklen=2, tickcolor="#666666",
        tickfont=dict(TICKFONT, color="#c4c4c4") if p["xlabfaint"] else TICKFONT,
    )
    layout[akey("y", n_sc)] = dict(
        domain=[fy(b), fy(t)], range=p["yr"], anchor=aref("x", n_sc),
        tickmode="array", tickvals=p["yt"], ticktext=p["ytt"],
        showgrid=True, gridcolor=GRID, gridwidth=1, zeroline=False,
        minor=dict(tickmode="array", tickvals=p["yminor"], showgrid=True, gridcolor=MINOR, gridwidth=0.6),
        showline=True, linecolor=BORDER, linewidth=1.2, mirror=True,
        ticks="outside", ticklen=3, tickcolor="#666666", tickfont=TICKFONT,
    )

    fig.add_trace(go.Scatter(
        x=xs, y=ys, mode="markers",
        marker=dict(color="black", size=p["msize"], line=dict(width=0)),
        xaxis=aref("x", n_sc), yaxis=aref("y", n_sc), hoverinfo="skip"))

    a, s = p["fit"]
    fx0, fx1 = min(xs), max(xs)
    fig.add_trace(go.Scatter(
        x=[fx0, fx1], y=[a + s * fx0, a + s * fx1], mode="lines",
        line=dict(color="rgba(200,200,200,0.85)", width=5),
        xaxis=aref("x", n_sc), yaxis=aref("y", n_sc), hoverinfo="skip"))
    fig.add_trace(go.Scatter(
        x=[fx0, fx1], y=[a + s * fx0, a + s * fx1], mode="lines",
        line=dict(color="#8f8f8f", width=1.8),
        xaxis=aref("x", n_sc), yaxis=aref("y", n_sc), hoverinfo="skip"))

    lo = min(p["xr"][0], p["yr"][0])
    hi = max(p["xr"][1], p["yr"][1])
    fig.add_trace(go.Scatter(
        x=[lo, hi], y=[lo, hi], mode="lines", line=dict(color="black", width=0.8),
        xaxis=aref("x", n_sc), yaxis=aref("y", n_sc), hoverinfo="skip"))

    tl, tr, tt, tb = p["th"]
    nt = len(p["top"])
    layout[akey("x", n_top)] = dict(domain=[fx(tl), fx(tr)], range=[-0.5, nt - 0.5],
                                    anchor=aref("y", n_top), visible=False)
    layout[akey("y", n_top)] = dict(domain=[fy(tb), fy(tt)], range=[0, max(p["top"])],
                                    anchor=aref("x", n_top), visible=False)
    fig.add_trace(go.Bar(
        x=list(range(nt)), y=p["top"], width=1,
        marker=dict(color=BAR_FILL, line=dict(color=BAR_LINE, width=0.6)),
        xaxis=aref("x", n_top), yaxis=aref("y", n_top), hoverinfo="skip"))

    rl, rr, rt, rb = p["rh"]
    bottom_up = list(reversed(p["right"]))
    nr = len(bottom_up)
    rmax = max(bottom_up) if p["letter"] != "F" else 155
    layout[akey("x", n_rt)] = dict(domain=[fx(rl), fx(rr)], range=[0, rmax],
                                   anchor=aref("y", n_rt), visible=False)
    layout[akey("y", n_rt)] = dict(domain=[fy(rb), fy(rt)], range=[-0.5, nr - 0.5],
                                   anchor=aref("x", n_rt), visible=False)
    fig.add_trace(go.Bar(
        y=list(range(nr)), x=bottom_up, width=1, orientation="h",
        marker=dict(color=BAR_FILL, line=dict(color=BAR_LINE, width=0.6)),
        xaxis=aref("x", n_rt), yaxis=aref("y", n_rt), hoverinfo="skip"))

    for line, yy in zip(p["stats"], p["sy"]):
        txt = line.replace("  ", " \u00a0")
        annotations.append(dict(
            x=fx(p["sx"]), y=fy(yy), xref="paper", yref="paper", xanchor="left", yanchor="middle",
            text="<i>" + txt + "</i>", showarrow=False,
            font=dict(family="Liberation Sans, Arial, sans-serif", size=p["sfont"], color="#2e2e2e")))

    annotations.append(dict(
        x=fx(p["xtpos"][0]), y=fy(p["xtpos"][1]), xref="paper", yref="paper",
        xanchor="center", yanchor="bottom" if p["bottom"] else "middle",
        text=p["xtitle"], showarrow=False,
        font=BOTTOMTITLEFONT if p["bottom"] else TITLEFONT))
    annotations.append(dict(
        x=fx(p["ytpos"][0]), y=fy(p["ytpos"][1]), xref="paper", yref="paper",
        xanchor="center", yanchor="middle", text=p["ytitle"], showarrow=False,
        textangle=-90, font=TITLEFONT))

    annotations.append(dict(
        x=fx(p["lpos"][0]), y=fy(p["lpos"][1]), xref="paper", yref="paper",
        xanchor="center", yanchor="middle", text="<b>" + p["letter"] + "</b>", showarrow=False,
        font=dict(family="Lato, Open Sans, sans-serif", size=30, color="black")))

# watermark of the source page
annotations.append(dict(
    x=fx(415), y=fy(110), xref="paper", yref="paper", xanchor="center", yanchor="middle",
    text="Journal", showarrow=False, textangle=-50,
    font=dict(family="Open Sans, sans-serif", size=150, color="rgba(150,150,150,0.22)")))

fig.update_layout(
    width=W, height=H, margin=dict(l=0, r=0, t=0, b=0),
    paper_bgcolor="white", plot_bgcolor="white",
    showlegend=False, bargap=0, barmode="overlay",
    annotations=annotations, **layout)

fig.write_html(
    "out.html",
    config={"displayModeBar": False},
    post_script="document.body.style.margin='0px';document.body.style.overflow='hidden';")
